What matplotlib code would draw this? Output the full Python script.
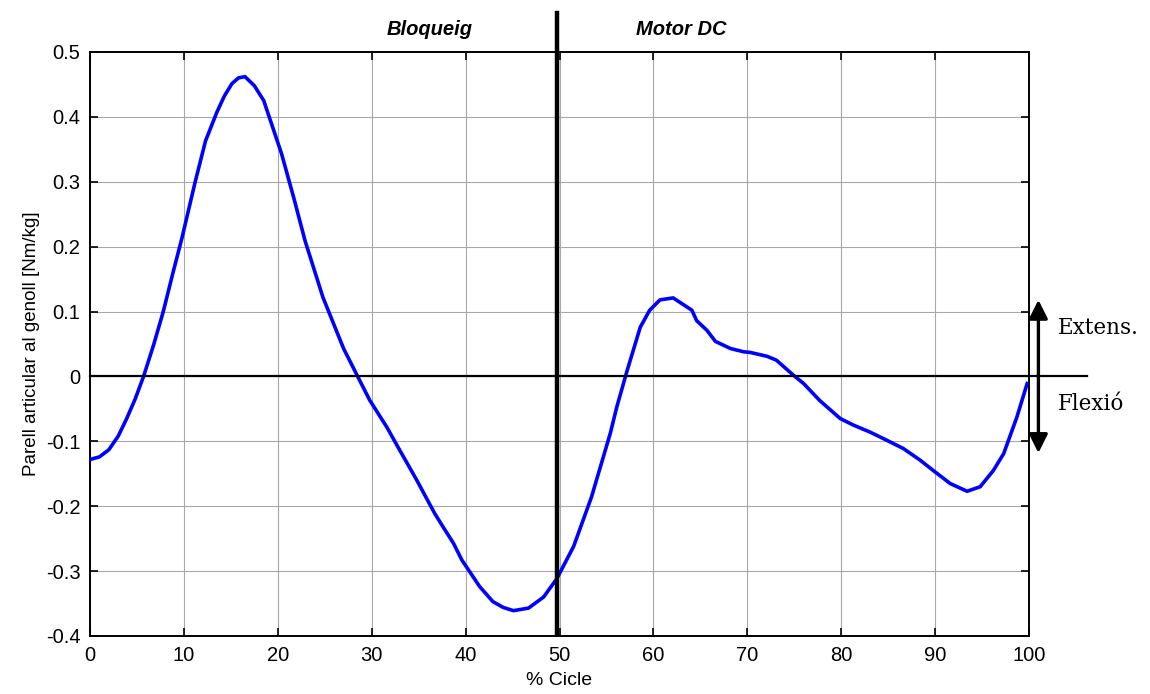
import numpy as np
import matplotlib.pyplot as plt

# corba del parell articular al genoll (llegida del gràfic)
cicle = [0.0, 1.0, 2.0, 3.0, 3.9, 4.8, 5.7, 6.8, 7.8, 8.8, 9.8, 11.2, 12.3, 13.5,
         14.3, 15.1, 15.8, 16.5, 17.5, 18.5, 20.4, 21.7, 22.9, 24.8, 27.0,
         28.5, 29.8, 31.6, 32.8, 34.8, 36.7, 37.6, 38.7, 39.6, 41.5, 42.9,
         44.0, 45.1, 46.7, 48.3, 49.7, 51.5, 53.4, 55.4, 56.1, 57.2, 58.6,
         59.6, 60.7, 62.1, 64.1, 64.6, 65.7, 66.6, 68.2, 69.6, 70.3, 72.1, 73.1,
         74.9, 76.0, 77.7, 79.9, 81.3, 83.1, 84.8, 86.6, 88.4, 89.8, 91.6, 93.4,
         94.8, 96.2, 97.3, 98.7, 99.8]
parell = [-0.128, -0.124, -0.113, -0.092, -0.065, -0.035, 0.0, 0.05, 0.10, 0.158,
          0.214, 0.30, 0.363, 0.407, 0.432, 0.451, 0.460, 0.462, 0.448, 0.425,
          0.343, 0.275, 0.209, 0.122, 0.043, 0.0, -0.037, -0.078, -0.109, -0.16,
          -0.211, -0.232, -0.257, -0.283, -0.324, -0.347, -0.356, -0.361, -0.357,
          -0.34, -0.312, -0.262, -0.186, -0.088, -0.047, 0.009, 0.076, 0.102,
          0.118, 0.121, 0.102, 0.086, 0.071, 0.054, 0.043, 0.038, 0.037, 0.031,
          0.025, 0.002, -0.011, -0.037, -0.065, -0.075, -0.086, -0.098, -0.111,
          -0.129, -0.145, -0.165, -0.177, -0.170, -0.145, -0.119, -0.063, -0.011]

xticks = np.arange(0, 101, 10)
yticks = np.arange(-4, 6) / 10

fig = plt.figure(figsize=(11.5, 6.94), dpi=100)
ax = fig.add_axes([0.0783, 0.0836, 0.8165, 0.8415])

ax.plot(cicle, parell, color='#0000ff', lw=2.6, zorder=3)

ax.set_xlim(0, 100)
ax.set_ylim(-0.4, 0.5)
ax.set_xticks(xticks)
ax.set_yticks(yticks)
ax.set_yticklabels(['0' if v == 0 else '%g' % v for v in yticks])
ax.grid(True, color='#a8a8a8', lw=0.8, zorder=0)
ax.tick_params(direction='in', top=True, right=True, length=6, width=1.2,
               labelsize=14.5, pad=7)
for lab in ax.get_xticklabels() + ax.get_yticklabels():
    lab.set_family('Liberation Sans')
for s in ax.spines.values():
    s.set_linewidth(1.4)

ax.set_xlabel('% Cicle', fontsize=14, family='Liberation Sans', labelpad=5)
ax.set_ylabel('Parell articular al genoll [Nm/kg]', fontsize=13.5,
              family='Liberation Sans', labelpad=4)

# línia del zero i separació de fases
ax.plot([0, 106.2], [0, 0], color='black', lw=1.6, clip_on=False, zorder=4)
ax.plot([49.7, 49.7], [-0.395, 0.56], color='black', lw=3.2, clip_on=False, zorder=5)

ax.text(36.2, 0.535, 'Bloqueig', fontsize=14.5, fontweight='bold', style='italic',
        family='Liberation Sans', ha='center', va='center')
ax.text(63.0, 0.535, 'Motor DC', fontsize=14.5, fontweight='bold', style='italic',
        family='Liberation Sans', ha='center', va='center')

ax.annotate('', xy=(101.0, 0.118), xytext=(101.0, -0.118),
            arrowprops=dict(arrowstyle='<|-|>', color='black', lw=2.4,
                            mutation_scale=28, shrinkA=0, shrinkB=0),
            annotation_clip=False)
ax.text(103.1, 0.075, 'Extens.', fontsize=15.5, family='DejaVu Serif',
        ha='left', va='center')
ax.text(103.1, -0.042, 'Flexió', fontsize=15.5, family='DejaVu Serif',
        ha='left', va='center')

fig.savefig('out.png', dpi=100)
